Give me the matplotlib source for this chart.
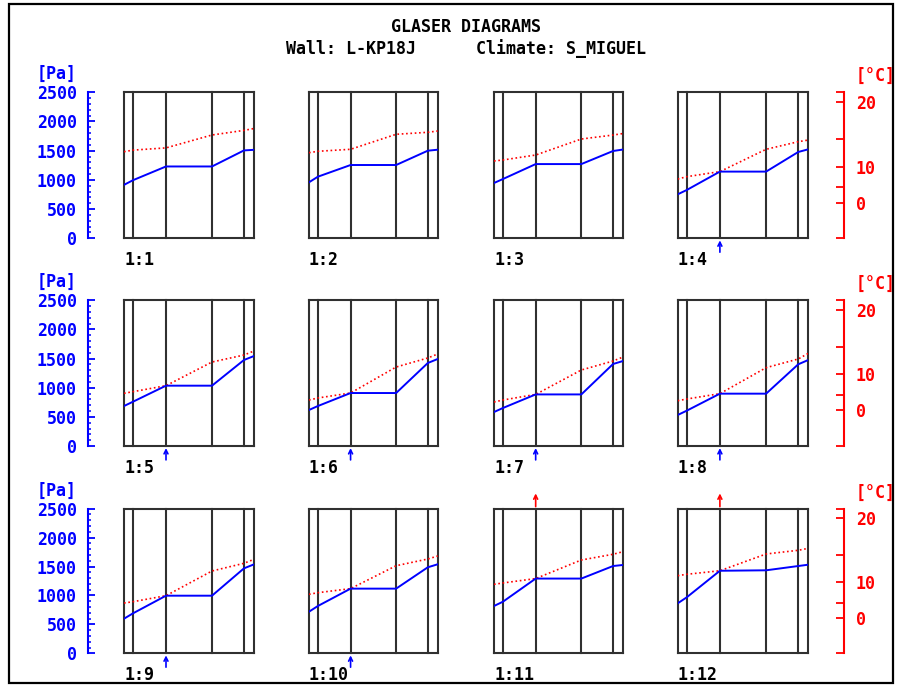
import matplotlib
matplotlib.use("Agg")
import matplotlib.pyplot as plt
from matplotlib.patches import Rectangle
from matplotlib.ticker import MultipleLocator

plt.rcParams['font.family'] = ['DejaVu Sans Mono']
plt.rcParams['font.weight'] = 'bold'

# ---------------- data ----------------
title = "GLASER DIAGRAMS"
subtitle = "Wall: L-KP18J      Climate: S_MIGUEL"
panel_labels = ['1:1', '1:2', '1:3', '1:4', '1:5', '1:6',
                '1:7', '1:8', '1:9', '1:10', '1:11', '1:12']
# layer interfaces across the wall (relative thickness units)
interfaces = [0, 9, 42, 88, 120, 130]

# vapour partial pressure at interfaces [Pa] (blue, solid)
vapour_pa = [
    [915, 995, 1230, 1230, 1505, 1515],
    [959, 1055, 1255, 1255, 1500, 1517],
    [947, 1015, 1271, 1271, 1495, 1520],
    [753, 827, 1142, 1142, 1478, 1524],
    [686, 760, 1035, 1035, 1476, 1544],
    [618, 686, 909, 909, 1424, 1493],
    [583, 652, 885, 885, 1407, 1458],
    [532, 606, 898, 898, 1402, 1476],
    [598, 691, 996, 996, 1469, 1538],
    [719, 818, 1118, 1118, 1487, 1539],
    [818, 892, 1292, 1292, 1509, 1527],
    [864, 968, 1427, 1435, 1509, 1532],
]
# saturation pressure at interfaces [Pa] (red, dotted)
saturation_pa = [
    [1483, 1510, 1548, 1769, 1848, 1880],
    [1466, 1490, 1524, 1781, 1815, 1837],
    [1324, 1341, 1426, 1700, 1768, 1794],
    [1015, 1055, 1142, 1524, 1654, 1683],
    [904, 932, 1035, 1441, 1561, 1630],
    [789, 824, 909, 1355, 1510, 1579],
    [755, 789, 885, 1304, 1458, 1527],
    [777, 806, 898, 1344, 1493, 1590],
    [869, 892, 996, 1423, 1556, 1625],
    [1020, 1048, 1118, 1514, 1630, 1682],
    [1193, 1216, 1292, 1613, 1712, 1757],
    [1342, 1366, 1427, 1717, 1781, 1815],
]
# condensation markers: '' none, 'b' blue arrow below, 'r' red arrow above
marker_side = ['', '', '', 'b', 'b', 'b', 'b', 'b', 'b', 'b', 'r', 'r']
marker_iface = [0, 0, 0, 2, 2, 2, 2, 2, 2, 2, 2, 2]

pa_ticks = [0, 500, 1000, 1500, 2000, 2500]
temp_tick_pa = [2500, 2339, 1705, 1228, 872, 611, 0]
temp_tick_labels = ['', '20', '', '10', '', '0', '']

# ---------------- layout ----------------
W, H = 899, 686
fig = plt.figure(figsize=(W / 100, H / 100), dpi=100)
fig.patch.set_facecolor('white')

col_l = [124, 309, 494, 677.7]
col_r = [254, 437.7, 623, 808.3]
row_t = [92.3, 300.3, 508.7]
row_b = [238.3, 446, 653.3]

def fx(x):
    return x / W

def fy(y):
    return 1 - y / H

BLUE = '#0000ff'
RED = '#ff0000'
GRID = '#303030'
FS = 12

fig.add_artist(Rectangle((fx(8.5), fy(683)), fx(893) - fx(8.5), fy(4) - fy(683),
                         transform=fig.transFigure, fill=False, lw=1.6,
                         edgecolor='black'))
fig.text(fx(466), fy(27), title, ha='center', va='center', fontsize=FS,
         fontweight='bold')
fig.text(fx(466), fy(49), subtitle, ha='center', va='center', fontsize=FS,
         fontweight='bold')

for i in range(12):
    r, c = divmod(i, 4)
    ax = fig.add_axes([fx(col_l[c]), fy(row_b[r]), fx(col_r[c]) - fx(col_l[c]),
                       fy(row_t[r]) - fy(row_b[r])])
    ax.set_xlim(interfaces[0], interfaces[-1])
    ax.set_ylim(0, 2500)
    ax.set_xticks([])
    for s in ['top', 'bottom']:
        ax.spines[s].set_color(GRID)
        ax.spines[s].set_linewidth(1.5)
    for xv in interfaces:
        ax.axvline(xv, color=GRID, lw=1.5, clip_on=False, zorder=1)
    ax.plot(interfaces, saturation_pa[i], color=RED, lw=1.2,
            linestyle=(0, (1, 1.6)), zorder=3)
    ax.plot(interfaces, vapour_pa[i], color=BLUE, lw=1.4, zorder=4)

    ax.spines['right'].set_visible(False)
    if c == 0:
        ax.spines['left'].set_position(('outward', 25.6))
        ax.spines['left'].set_color(BLUE)
        ax.spines['left'].set_linewidth(1.5)
        ax.set_yticks(pa_ticks)
        ax.yaxis.set_minor_locator(MultipleLocator(100))
        ax.tick_params(axis='y', which='major', direction='in', length=5.3,
                       width=1.3, color=BLUE, labelcolor=BLUE,
                       labelsize=FS, pad=8.5)
        ax.tick_params(axis='y', which='minor', direction='in', length=2.4,
                       width=1.1, color=BLUE)
        ax.text(-0.365, 1.125, '[Pa]', transform=ax.transAxes, ha='right',
                va='center', color=BLUE, fontsize=FS, fontweight='bold')
    else:
        ax.spines['left'].set_visible(False)
        ax.set_yticks([])

    if c == 3:
        ax2 = ax.twinx()
        ax2.set_ylim(0, 2500)
        ax2.set_xlim(interfaces[0], interfaces[-1])
        for s in ['top', 'bottom', 'left']:
            ax2.spines[s].set_visible(False)
        ax2.spines['right'].set_position(('outward', 25.9))
        ax2.spines['right'].set_color(RED)
        ax2.spines['right'].set_linewidth(1.5)
        ax2.set_yticks(temp_tick_pa)
        ax2.set_yticklabels(temp_tick_labels)
        ax2.tick_params(axis='y', direction='in', length=6, width=1.3,
                        color=RED, labelcolor=RED, labelsize=FS, pad=8.4)
        ax2.text(1.365, 1.11, '[°C]', transform=ax.transAxes, ha='left',
                 va='center', color=RED, fontsize=FS, fontweight='bold')

    ax.text(0, -0.15, panel_labels[i], transform=ax.transAxes, ha='left',
            va='center', fontsize=FS, fontweight='bold', color='black')

    if marker_side[i] == 'b':
        xv = interfaces[marker_iface[i]]
        ax.annotate('', xy=(xv, 0), xycoords=('data', 'axes fraction'),
                    xytext=(0, -10), textcoords='offset points',
                    arrowprops=dict(arrowstyle='->', color=BLUE, lw=1.2,
                                    shrinkA=0, shrinkB=1.5,
                                    mutation_scale=7))
    elif marker_side[i] == 'r':
        xv = interfaces[marker_iface[i]]
        ax.annotate('', xy=(xv, 1), xycoords=('data', 'axes fraction'),
                    xytext=(0, 11), textcoords='offset points',
                    arrowprops=dict(arrowstyle='<-', color=RED, lw=1.2,
                                    shrinkA=0, shrinkB=1.5,
                                    mutation_scale=7))

fig.savefig('out.png', dpi=100, facecolor='white')
